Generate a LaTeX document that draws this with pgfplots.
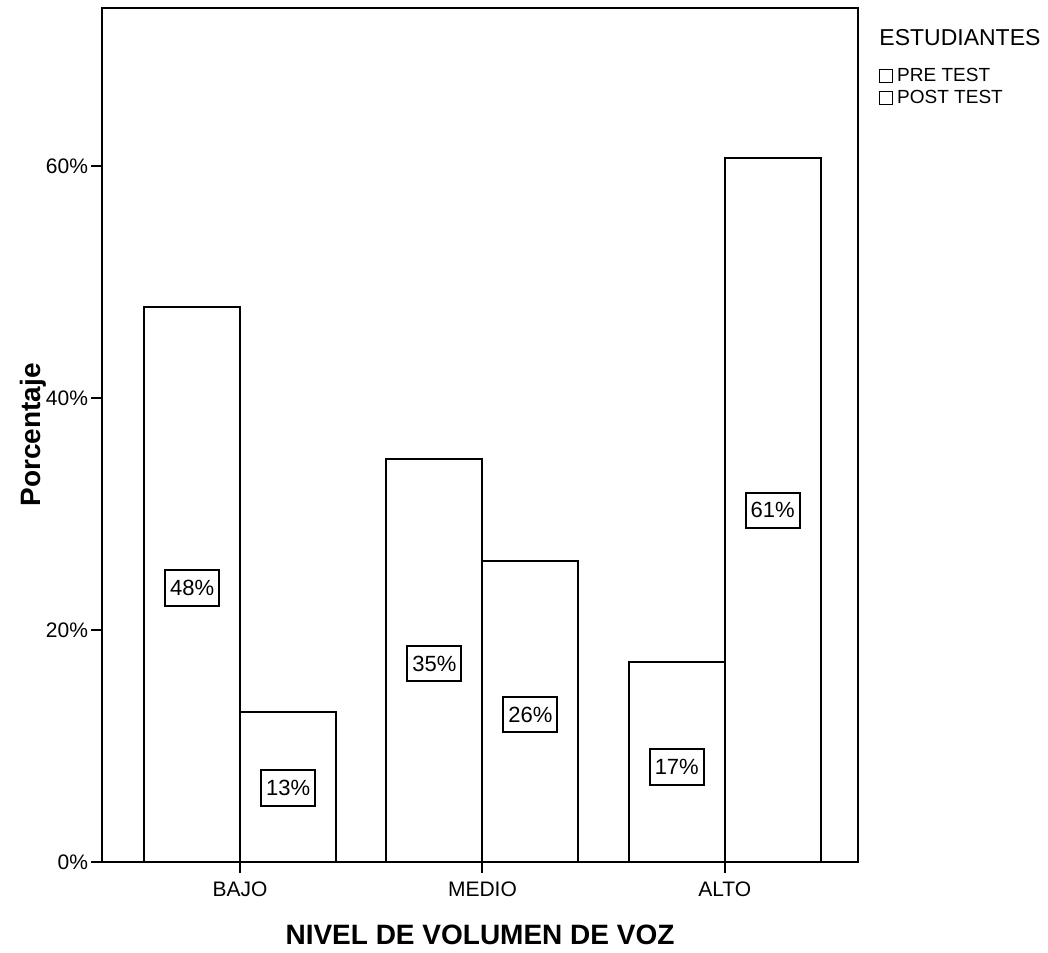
\documentclass[border=0pt]{standalone}
\usepackage{pgfplots}
\pgfplotsset{compat=1.18}
\usepackage{fontspec}
\setmainfont{Liberation Sans}
\begin{document}
\begin{tikzpicture}
\useasboundingbox (0,0) rectangle (524pt,476pt);
\begin{axis}[
  at={(51pt,45pt)}, anchor=south west,
  scale only axis, width=378pt, height=427pt,
  xmin=-0.57, xmax=2.55, ymin=0, ymax=73.6,
  xtick={0,1,2}, xticklabels={BAJO,MEDIO,ALTO},
  ytick={0,20,40,60}, yticklabels={0\%,20\%,40\%,60\%},
  xtick pos=bottom, ytick pos=left,
  tick align=outside, major tick length=5.5pt,
  tick style={line width=1pt, black},
  axis line style={line width=1.1pt},
  ticklabel style={font=\fontsize{10.5}{12}\selectfont},
  yticklabel style={xshift=2pt},
  xticklabel style={yshift=-1pt},
  ylabel={\bfseries Porcentaje}, xlabel={\bfseries NIVEL DE VOLUMEN DE VOZ},
  label style={font=\fontsize{14}{16}\selectfont},
  ylabel style={yshift=-7pt},
  xlabel style={yshift=-7pt},
  legend style={at={(1.027,0.935)}, anchor=north west, draw=none, fill=none,
    font=\fontsize{9.5}{11}\selectfont, row sep=-1pt, inner sep=0pt,
    legend cell align=left},
  legend image code/.code={\draw[black, line width=0.6pt, fill=white] (0pt,-3.3pt) rectangle (6.6pt,3.3pt);},
  clip=false,
]
\addplot[ybar, bar width=0.396, bar shift=-0.198, draw=black, line width=1pt, fill=white]
  coordinates {(0,47.8) (1,34.7) (2,17.2)};
\addlegendentry{PRE TEST}
\addplot[ybar, bar width=0.396, bar shift=0.198, draw=black, line width=1pt, fill=white]
  coordinates {(0,12.9) (1,25.9) (2,60.7)};
\addlegendentry{POST TEST}
\addplot[draw=none, mark=none, forget plot, point meta=explicit symbolic,
  nodes near coords,
  every node near coord/.append style={anchor=center, draw=black, line width=1pt, fill=white,
    inner xsep=2.5pt, inner ysep=5pt, font=\fontsize{11}{12}\selectfont}]
  coordinates {(-0.198,23.6)[48\%] (0.802,17.1)[35\%] (1.802,8.2)[17\%]
               (0.198,6.4)[13\%] (1.198,12.7)[26\%] (2.198,30.3)[61\%]};
\node[anchor=west, font=\fontsize{11.5}{13}\selectfont] at (rel axis cs:1.019,0.965) {ESTUDIANTES};
\end{axis}
\end{tikzpicture}
\end{document}
